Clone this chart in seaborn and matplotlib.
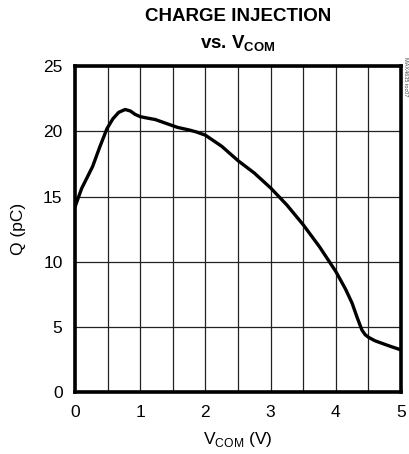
import matplotlib
matplotlib.use('Agg')
import matplotlib.pyplot as plt
import seaborn as sns
import pandas as pd

# Charge injection vs common-mode voltage
v_com = [0.0, 0.1, 0.2, 0.27, 0.38, 0.49, 0.58, 0.67, 0.77, 0.85, 0.92, 1.0,
         1.12, 1.23, 1.4, 1.57, 1.75, 1.86, 2.0, 2.25, 2.5, 2.75, 3.0, 3.25,
         3.5, 3.75, 4.0, 4.15, 4.25, 4.33, 4.4, 4.45, 4.5, 4.6, 4.71, 4.85, 5.0]
q_pc = [14.2, 15.6, 16.6, 17.3, 18.8, 20.2, 20.95, 21.45, 21.67, 21.55, 21.3, 21.12,
        21.0, 20.9, 20.6, 20.3, 20.1, 19.95, 19.7, 18.85, 17.75, 16.8, 15.66, 14.35,
        12.84, 11.15, 9.26, 7.9, 6.83, 5.7, 4.78, 4.42, 4.22, 3.95, 3.75, 3.5, 3.25]

df = pd.DataFrame({'vcom': v_com, 'q': q_pc})

sns.set_style("white")
plt.rcParams['font.family'] = ['Liberation Sans', 'DejaVu Sans']
plt.rcParams['mathtext.fontset'] = 'custom'
plt.rcParams['mathtext.rm'] = 'Liberation Sans'
plt.rcParams['mathtext.bf'] = 'Liberation Sans:bold'
for key in ['text.color', 'axes.labelcolor', 'xtick.color', 'ytick.color']:
    plt.rcParams[key] = 'black'

fig = plt.figure(figsize=(4.09, 4.54), dpi=100)
ax = fig.add_axes([0.1834, 0.1359, 0.7970, 0.7187])

sns.lineplot(data=df, x='vcom', y='q', color='black', linewidth=2.4, ax=ax,
             sort=False)

ax.set_xlim(0, 5)
ax.set_ylim(0, 25)
ax.set_xticks([0, 1, 2, 3, 4, 5])
ax.set_yticks([0, 5, 10, 15, 20, 25])
ax.set_xticks([0.5, 1.5, 2.5, 3.5, 4.5], minor=True)
ax.grid(True, which='both', color='#222222', linewidth=0.9)
ax.tick_params(axis='both', which='both', length=0, labelsize=12.5, pad=9)

for s in ax.spines.values():
    s.set_linewidth(2.6)
    s.set_color('black')

ax.set_xlabel(r'V$_{\mathregular{COM}}$ (V)', fontsize=12.5, labelpad=7)
ax.set_ylabel('Q (pC)', fontsize=12.5, labelpad=12)

fig.text(0.581, 0.963, 'CHARGE INJECTION', ha='center', va='center',
         fontsize=13.5, fontweight='bold')
fig.text(0.581, 0.903, r'vs. V$_{\mathbf{COM}}$', ha='center', va='center',
         fontsize=13.5, fontweight='bold')
fig.text(0.992, 0.83, 'MAX4635 toc07', rotation=270, ha='center', va='center',
         fontsize=4, color='#444444')

plt.savefig('out.png', dpi=100)
plt.close()
